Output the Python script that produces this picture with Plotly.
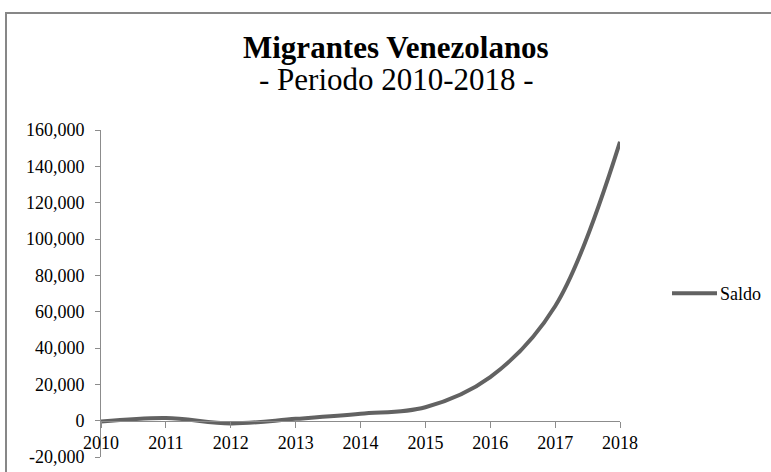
import plotly.graph_objects as go

years = [2010, 2011, 2012, 2013, 2014, 2015, 2016, 2017, 2018]
saldo = [-500, 1500, -1500, 1000, 3800, 7400, 24000, 63000, 153500]
y_ticks = [-20000, 0, 20000, 40000, 60000, 80000, 100000, 120000, 140000, 160000]
y_tick_labels = ["-20,000", "0", "20,000", "40,000", "60,000", "80,000",
                 "100,000", "120,000", "140,000", "160,000"]
series_name = "Saldo"

FONT = "Liberation Serif"
L, R, T, B = 101, 151, 130, 15.3
W, H = 771, 472
pw = W - L - R
ph = H - T - B
LINE_COLOR = "#626262"
AXIS_COLOR = "#8c8c8c"


def px_to_xpaper(px):
    return (px - L) / pw


def px_to_ypaper(py):
    return (H - B - py) / ph


fig = go.Figure()
fig.add_trace(go.Scatter(
    x=years, y=saldo, mode="lines", name=series_name, showlegend=False,
    line=dict(color=LINE_COLOR, width=4, shape="spline", smoothing=1.0),
))

ymin, ymax = y_ticks[0], y_ticks[-1]
zero_pos = (0 - ymin) / (ymax - ymin)

fig.update_layout(
    width=W, height=H,
    margin=dict(l=L, r=R, t=T, b=B, autoexpand=False),
    paper_bgcolor="white", plot_bgcolor="white",
    font=dict(family=FONT, size=18, color="black"),
    showlegend=False,
    xaxis=dict(range=[years[0], years[-1]], tickvals=years, ticktext=[str(y) for y in years],
               showgrid=False, zeroline=False, showline=True, linecolor=AXIS_COLOR,
               linewidth=1, ticks="outside", ticklen=6, tickcolor=AXIS_COLOR,
               anchor="free", position=zero_pos, automargin=False,
               tickfont=dict(family=FONT, size=18, color="black")),
    yaxis=dict(range=[ymin, ymax], tickvals=y_ticks, ticktext=y_tick_labels,
               showgrid=False, zeroline=False, showline=True, linecolor=AXIS_COLOR,
               linewidth=1, ticks="outside", ticklen=5, tickcolor=AXIS_COLOR,
               ticklabelstandoff=7, automargin=False,
               tickfont=dict(family=FONT, size=18, color="black")),
)

# outer chart frame
fig.add_shape(type="rect", xref="paper", yref="paper",
              x0=px_to_xpaper(6), x1=px_to_xpaper(790),
              y0=px_to_ypaper(490), y1=px_to_ypaper(13),
              line=dict(color="#878787", width=2), fillcolor="rgba(0,0,0,0)",
              layer="below")

# legend (line sample + label)
fig.add_shape(type="line", xref="paper", yref="paper",
              x0=px_to_xpaper(672), x1=px_to_xpaper(717),
              y0=px_to_ypaper(293), y1=px_to_ypaper(293),
              line=dict(color=LINE_COLOR, width=4))
fig.add_annotation(xref="paper", yref="paper",
                   x=px_to_xpaper(718), y=px_to_ypaper(294),
                   text=series_name, showarrow=False,
                   xanchor="left", yanchor="middle",
                   font=dict(family=FONT, size=18, color="black"))

fig.add_annotation(xref="paper", yref="paper",
                   x=px_to_xpaper(396), y=px_to_ypaper(48),
                   text="<b>Migrantes Venezolanos</b>", showarrow=False,
                   xanchor="center", yanchor="middle",
                   font=dict(family=FONT, size=31, color="black"))
fig.add_annotation(xref="paper", yref="paper",
                   x=px_to_xpaper(396), y=px_to_ypaper(80),
                   text="- Periodo 2010-2018 -", showarrow=False,
                   xanchor="center", yanchor="middle",
                   font=dict(family=FONT, size=31, color="black"))

fig.write_html("out.html")
